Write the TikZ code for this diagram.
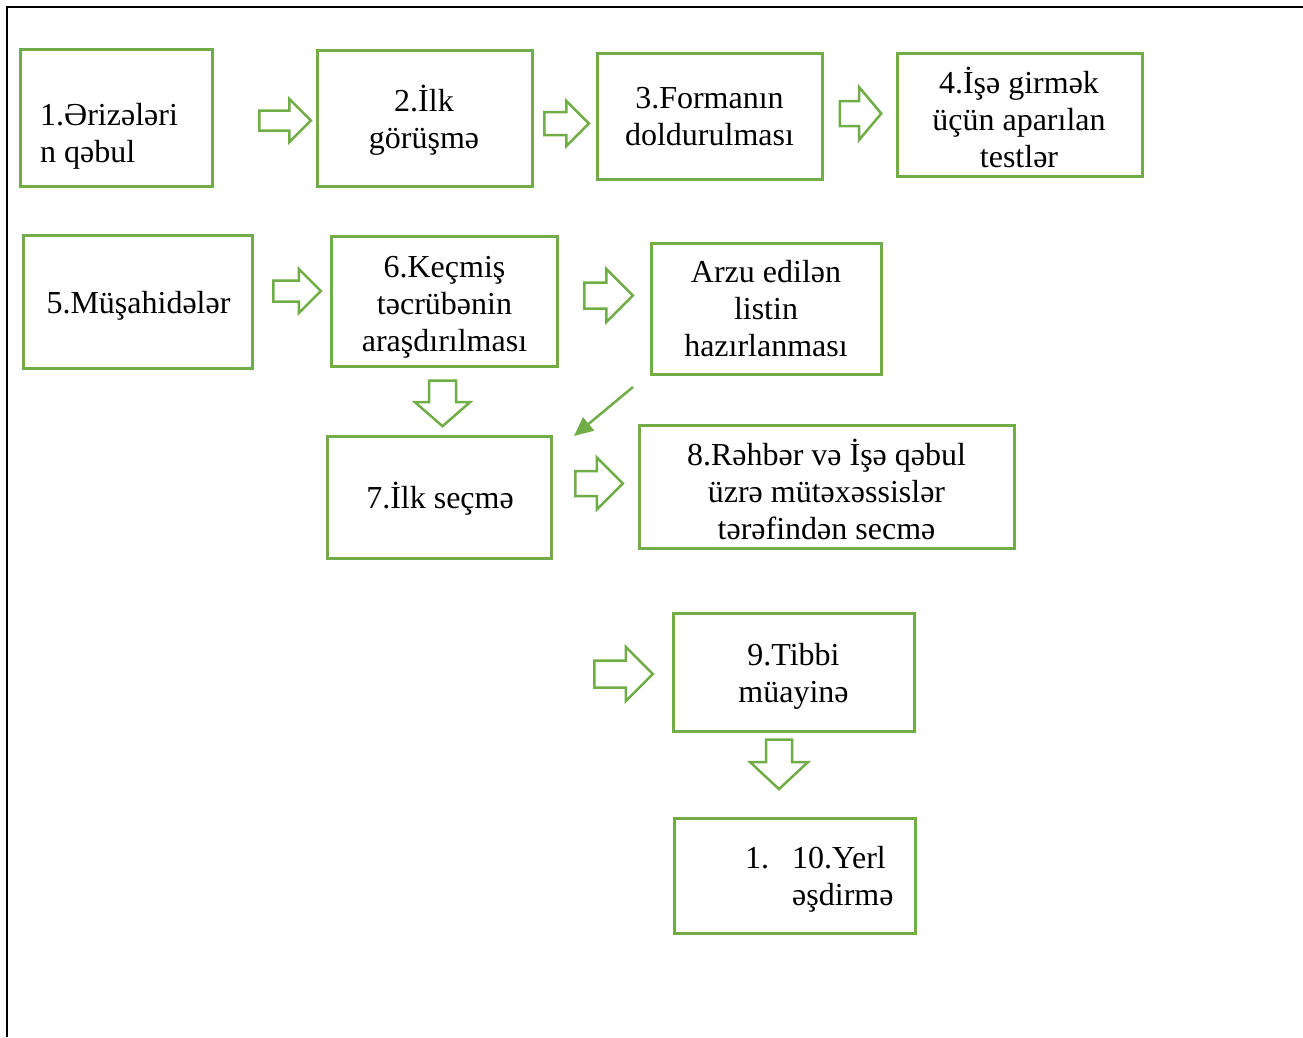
\documentclass[tikz,border=0pt]{standalone}
\usepackage{fontspec}
\setmainfont{Liberation Serif}
\usetikzlibrary{shapes.arrows,arrows.meta}
\definecolor{grn}{HTML}{70AD47}
\newcommand\tstrut{\rule[-11.1pt]{0pt}{37pt}}
\tikzset{
  box/.style={draw=grn, line width=3pt, inner sep=0pt},
  txt/.style={font=\fontsize{32}{37}\selectfont, align=center, inner sep=0pt, text=black},
  barrow/.style={single arrow, draw=grn, line width=2.5pt, fill=white, inner xsep=0pt,
    single arrow tip angle=90, line join=miter, anchor=tip},
  conn/.style={draw=grn, line width=2.5pt, -{Triangle[length=19pt,width=17pt]}, fill=grn}
}
\begin{document}
\begin{tikzpicture}[x=1pt,y=-1pt]
\useasboundingbox (0,0) rectangle (1303,1037);
% frame
\draw[line width=2.5pt] (7,1037) -- (7,7) -- (1303,7);
% boxes
\node[box, minimum width=192pt, minimum height=137pt] (b1) at (116,117.5) {};
\node[box, minimum width=215pt, minimum height=136pt] (b2) at (424.5,118) {};
\node[box, minimum width=225pt, minimum height=126pt] (b3) at (709.5,116) {};
\node[box, minimum width=245pt, minimum height=123pt] (b4) at (1019.5,114.5) {};
\node[box, minimum width=229pt, minimum height=133pt] (b5) at (137.5,301.5) {};
\node[box, minimum width=226pt, minimum height=130pt] (b6) at (444,301) {};
\node[box, minimum width=230pt, minimum height=131pt] (bA) at (766,308.5) {};
\node[box, minimum width=224pt, minimum height=122pt] (b7) at (439.5,497) {};
\node[box, minimum width=375pt, minimum height=123pt] (b8) at (827,486.5) {};
\node[box, minimum width=241pt, minimum height=118pt] (b9) at (793.5,672) {};
\node[box, minimum width=241pt, minimum height=115pt] (b10) at (794.5,875.5) {};
% texts
\node[txt, align=left, anchor=west] (t1) at (40,137) {\tstrut 1.Ərizələri\\\tstrut n qəbul};
\node[txt] (t2) at (424,122.5) {\tstrut 2.İlk\\\tstrut görüşmə};
\node[txt] (t3) at (709.5,120) {\tstrut 3.Formanın\\\tstrut doldurulması};
\node[txt] (t4) at (1019,123) {\tstrut 4.İşə girmək\\\tstrut üçün aparılan\\\tstrut testlər};
\node[txt] (t5) at (138.5,306) {\tstrut 5.Müşahidələr};
\node[txt] (t6) at (444.5,306.8) {\tstrut 6.Keçmiş\\\tstrut təcrübənin\\\tstrut araşdırılması};
\node[txt] (tA) at (766,312) {\tstrut Arzu edilən\\\tstrut listin\\\tstrut hazırlanması};
\node[txt] (t7) at (440,501.2) {\tstrut 7.İlk seçmə};
\node[txt] (t8) at (826.5,495) {\tstrut 8.Rəhbər və İşə qəbul\\\tstrut üzrə mütəxəssislər\\\tstrut tərəfindən secmə};
\node[txt] (t9) at (793.5,676.5) {\tstrut 9.Tibbi\\\tstrut müayinə};
\node[txt, anchor=base west] (t10) at (745,868.5) {\begin{tabular}[t]{@{}l@{\hspace{23pt}}l@{}}1.&10.Yerl\\&əşdirmə\end{tabular}};
% block arrows (placed by their tips)
\node[barrow, minimum height=51.5pt, inner ysep=8.75pt, single arrow head extend=11.5pt] (a12) at (312.7,120.5) {};
\node[barrow, minimum height=44.5pt, inner ysep=10.25pt, single arrow head extend=11pt] (a23) at (590.7,123.5) {};
\node[barrow, minimum height=41.5pt, inner ysep=11.25pt, single arrow head extend=14pt, single arrow tip angle=100] (a34) at (882.9,113.5) {};
\node[barrow, minimum height=47.5pt, inner ysep=9.25pt, single arrow head extend=11.5pt] (a56) at (322.7,291) {};
\node[barrow, minimum height=48.5pt, inner ysep=11.75pt, single arrow head extend=13.5pt] (a6A) at (634.7,295.5) {};
\node[barrow, minimum height=45.5pt, inner ysep=12.25pt, single arrow head extend=14pt, single arrow tip angle=98, rotate=-90] (a67) at (442.5,427.8) {};
\node[barrow, minimum height=47.5pt, inner ysep=11.25pt, single arrow head extend=13.5pt] (a78) at (624.7,483.5) {};
\node[barrow, minimum height=58.5pt, inner ysep=12.25pt, single arrow head extend=13.5pt] (a9) at (654.7,674) {};
\node[barrow, minimum height=49.5pt, inner ysep=11.75pt, single arrow head extend=16pt, single arrow tip angle=94, rotate=-90] (a910) at (779,790.8) {};
% diagonal arrow
\coordinate (d1) at (633,387);
\coordinate (d2) at (574,436);
\draw[conn] (d1) -- (d2);
\end{tikzpicture}
\end{document}
